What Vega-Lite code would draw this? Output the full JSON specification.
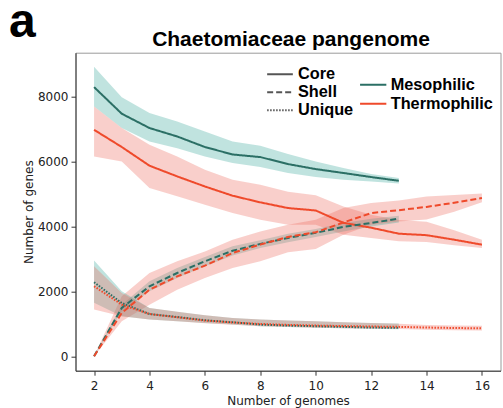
{
  "$schema": "https://vega.github.io/schema/vega-lite/v6.json",
  "width": 425,
  "height": 318,
  "autosize": {"type": "none"},
  "padding": {"left": 75.5, "top": 52.7, "right": 2.5, "bottom": 37.3},
  "config": {
    "view": {"stroke": "#9a9a9a", "strokeWidth": 1},
    "axis": {"labelFont": "DejaVu Sans", "titleFont": "DejaVu Sans", "labelFontSize": 12, "titleFontSize": 12, "labelColor": "#222", "titleColor": "#222", "titleFontWeight": "normal", "domainColor": "#333", "tickColor": "#333", "grid": false, "tickSize": 4.5}
  },
  "data": {"values": [
    {"n":2,"type":"Core","group":"Mesophilic","mean":8290,"lo":7690,"hi":8920},
    {"n":3,"type":"Core","group":"Mesophilic","mean":7470,"lo":7030,"hi":7980},
    {"n":4,"type":"Core","group":"Mesophilic","mean":7030,"lo":6615,"hi":7490},
    {"n":5,"type":"Core","group":"Mesophilic","mean":6770,"lo":6410,"hi":7230},
    {"n":6,"type":"Core","group":"Mesophilic","mean":6445,"lo":6155,"hi":6925},
    {"n":7,"type":"Core","group":"Mesophilic","mean":6215,"lo":5950,"hi":6615},
    {"n":8,"type":"Core","group":"Mesophilic","mean":6135,"lo":5830,"hi":6485},
    {"n":9,"type":"Core","group":"Mesophilic","mean":5920,"lo":5645,"hi":6230},
    {"n":10,"type":"Core","group":"Mesophilic","mean":5765,"lo":5520,"hi":6000},
    {"n":11,"type":"Core","group":"Mesophilic","mean":5645,"lo":5440,"hi":5800},
    {"n":12,"type":"Core","group":"Mesophilic","mean":5520,"lo":5385,"hi":5610},
    {"n":13,"type":"Core","group":"Mesophilic","mean":5405,"lo":5320,"hi":5490},
    {"n":2,"type":"Core","group":"Thermophilic","mean":6975,"lo":6150,"hi":7690},
    {"n":3,"type":"Core","group":"Thermophilic","mean":6445,"lo":6000,"hi":7030},
    {"n":4,"type":"Core","group":"Thermophilic","mean":5870,"lo":5180,"hi":6515},
    {"n":5,"type":"Core","group":"Thermophilic","mean":5540,"lo":4925,"hi":6155},
    {"n":6,"type":"Core","group":"Thermophilic","mean":5230,"lo":4665,"hi":5745},
    {"n":7,"type":"Core","group":"Thermophilic","mean":4945,"lo":4410,"hi":5435},
    {"n":8,"type":"Core","group":"Thermophilic","mean":4740,"lo":4205,"hi":5280},
    {"n":9,"type":"Core","group":"Thermophilic","mean":4565,"lo":4050,"hi":5070},
    {"n":10,"type":"Core","group":"Thermophilic","mean":4490,"lo":4050,"hi":4960},
    {"n":11,"type":"Core","group":"Thermophilic","mean":4110,"lo":3745,"hi":4615},
    {"n":12,"type":"Core","group":"Thermophilic","mean":3960,"lo":3640,"hi":4360},
    {"n":13,"type":"Core","group":"Thermophilic","mean":3775,"lo":3540,"hi":4200},
    {"n":14,"type":"Core","group":"Thermophilic","mean":3730,"lo":3520,"hi":4140},
    {"n":15,"type":"Core","group":"Thermophilic","mean":3590,"lo":3420,"hi":3880},
    {"n":16,"type":"Core","group":"Thermophilic","mean":3437,"lo":3335,"hi":3590},
    {"n":2,"type":"Shell","group":"Mesophilic","mean":0,"lo":0,"hi":0},
    {"n":3,"type":"Shell","group":"Mesophilic","mean":1490,"lo":1385,"hi":1590},
    {"n":4,"type":"Shell","group":"Mesophilic","mean":2155,"lo":2000,"hi":2310},
    {"n":5,"type":"Shell","group":"Mesophilic","mean":2565,"lo":2410,"hi":2720},
    {"n":6,"type":"Shell","group":"Mesophilic","mean":2925,"lo":2770,"hi":3060},
    {"n":7,"type":"Shell","group":"Mesophilic","mean":3250,"lo":3100,"hi":3385},
    {"n":8,"type":"Shell","group":"Mesophilic","mean":3460,"lo":3335,"hi":3570},
    {"n":9,"type":"Shell","group":"Mesophilic","mean":3645,"lo":3510,"hi":3775},
    {"n":10,"type":"Shell","group":"Mesophilic","mean":3800,"lo":3675,"hi":3920},
    {"n":11,"type":"Shell","group":"Mesophilic","mean":3985,"lo":3845,"hi":4105},
    {"n":12,"type":"Shell","group":"Mesophilic","mean":4105,"lo":4000,"hi":4235},
    {"n":13,"type":"Shell","group":"Mesophilic","mean":4240,"lo":4120,"hi":4330},
    {"n":2,"type":"Shell","group":"Thermophilic","mean":0,"lo":0,"hi":0},
    {"n":3,"type":"Shell","group":"Thermophilic","mean":1335,"lo":1080,"hi":1845},
    {"n":4,"type":"Shell","group":"Thermophilic","mean":2050,"lo":1590,"hi":2565},
    {"n":5,"type":"Shell","group":"Thermophilic","mean":2460,"lo":2050,"hi":2925},
    {"n":6,"type":"Shell","group":"Thermophilic","mean":2790,"lo":2410,"hi":3230},
    {"n":7,"type":"Shell","group":"Thermophilic","mean":3180,"lo":2720,"hi":3590},
    {"n":8,"type":"Shell","group":"Thermophilic","mean":3440,"lo":2925,"hi":3845},
    {"n":9,"type":"Shell","group":"Thermophilic","mean":3675,"lo":3200,"hi":4050},
    {"n":10,"type":"Shell","group":"Thermophilic","mean":3820,"lo":3300,"hi":4205},
    {"n":11,"type":"Shell","group":"Thermophilic","mean":4120,"lo":3745,"hi":4565},
    {"n":12,"type":"Shell","group":"Thermophilic","mean":4410,"lo":4050,"hi":4720},
    {"n":13,"type":"Shell","group":"Thermophilic","mean":4500,"lo":4150,"hi":4800},
    {"n":14,"type":"Shell","group":"Thermophilic","mean":4600,"lo":4210,"hi":4920},
    {"n":15,"type":"Shell","group":"Thermophilic","mean":4730,"lo":4450,"hi":4970},
    {"n":16,"type":"Shell","group":"Thermophilic","mean":4874,"lo":4740,"hi":5010},
    {"n":2,"type":"Unique","group":"Mesophilic","mean":2280,"lo":1650,"hi":2950},
    {"n":3,"type":"Unique","group":"Mesophilic","mean":1640,"lo":1230,"hi":2000},
    {"n":4,"type":"Unique","group":"Mesophilic","mean":1300,"lo":1130,"hi":1490},
    {"n":5,"type":"Unique","group":"Mesophilic","mean":1210,"lo":1080,"hi":1370},
    {"n":6,"type":"Unique","group":"Mesophilic","mean":1110,"lo":1025,"hi":1260},
    {"n":7,"type":"Unique","group":"Mesophilic","mean":1045,"lo":975,"hi":1180},
    {"n":8,"type":"Unique","group":"Mesophilic","mean":975,"lo":925,"hi":1130},
    {"n":9,"type":"Unique","group":"Mesophilic","mean":945,"lo":900,"hi":1100},
    {"n":10,"type":"Unique","group":"Mesophilic","mean":925,"lo":875,"hi":1075},
    {"n":11,"type":"Unique","group":"Mesophilic","mean":905,"lo":860,"hi":1050},
    {"n":12,"type":"Unique","group":"Mesophilic","mean":885,"lo":845,"hi":1025},
    {"n":13,"type":"Unique","group":"Mesophilic","mean":875,"lo":835,"hi":1010},
    {"n":2,"type":"Unique","group":"Thermophilic","mean":2155,"lo":1440,"hi":2770},
    {"n":3,"type":"Unique","group":"Thermophilic","mean":1590,"lo":1230,"hi":1950},
    {"n":4,"type":"Unique","group":"Thermophilic","mean":1300,"lo":1130,"hi":1490},
    {"n":5,"type":"Unique","group":"Thermophilic","mean":1200,"lo":1080,"hi":1370},
    {"n":6,"type":"Unique","group":"Thermophilic","mean":1100,"lo":1020,"hi":1260},
    {"n":7,"type":"Unique","group":"Thermophilic","mean":1040,"lo":970,"hi":1180},
    {"n":8,"type":"Unique","group":"Thermophilic","mean":995,"lo":925,"hi":1130},
    {"n":9,"type":"Unique","group":"Thermophilic","mean":965,"lo":900,"hi":1100},
    {"n":10,"type":"Unique","group":"Thermophilic","mean":945,"lo":880,"hi":1075},
    {"n":11,"type":"Unique","group":"Thermophilic","mean":930,"lo":860,"hi":1050},
    {"n":12,"type":"Unique","group":"Thermophilic","mean":915,"lo":845,"hi":1025},
    {"n":13,"type":"Unique","group":"Thermophilic","mean":905,"lo":840,"hi":1000},
    {"n":14,"type":"Unique","group":"Thermophilic","mean":885,"lo":820,"hi":960},
    {"n":15,"type":"Unique","group":"Thermophilic","mean":870,"lo":800,"hi":945},
    {"n":16,"type":"Unique","group":"Thermophilic","mean":860,"lo":790,"hi":940}
  ]},
  "layer": [
    {
      "mark": {"type": "area", "opacity": 0.32},
      "encoding": {
        "x": {"field": "n", "type": "quantitative", "scale": {"domain": [1.33, 16.67], "nice": false, "zero": false},
              "axis": {"orient": "bottom", "values": [2,4,6,8,10,12,14,16], "title": "Number of genomes", "titlePadding": 4.5, "labelPadding": 5}},
        "y": {"field": "lo", "type": "quantitative", "scale": {"domain": [-445, 9350], "nice": false, "zero": false},
              "axis": {"orient": "left", "values": [0,2000,4000,6000,8000], "format": "d", "title": "Number of genes", "titlePadding": 1.5, "labelPadding": 3}},
        "y2": {"field": "hi"},
        "color": {"field": "group", "type": "nominal", "scale": {"domain": ["Mesophilic", "Thermophilic"], "range": ["#3aa89c", "#eb6a5c"]}, "legend": null},
        "detail": {"field": "type"}
      }
    },
    {
      "mark": {"type": "line", "strokeWidth": 2},
      "encoding": {
        "x": {"field": "n", "type": "quantitative",
              "axis": {"orient": "top", "labels": false, "ticks": false, "domain": false, "title": "Chaetomiaceae pangenome", "titleFont": "Liberation Sans", "titleFontSize": 21, "titleFontWeight": "bold", "titleColor": "#000", "titleBaseline": "alphabetic", "titleY": -7, "titleX": 215, "titleAlign": "center"}},
        "y": {"field": "mean", "type": "quantitative",
              "axis": {"orient": "right", "labels": false, "ticks": false, "domain": false, "title": "a", "titleFont": "Liberation Sans", "titleFontSize": 48, "titleFontWeight": "bold", "titleColor": "#000", "titleAngle": 0, "titleBaseline": "alphabetic", "titleAlign": "left", "titleX": -492, "titleY": -16}},
        "color": {"field": "group", "type": "nominal", "title": null,
                  "scale": {"domain": ["Mesophilic", "Thermophilic"], "range": ["#2b6f65", "#ef4a2b"]},
                  "legend": {"orient": "none", "legendX": 283.2, "legendY": 22.8, "symbolType": "stroke", "symbolSize": 690, "symbolStrokeWidth": 2, "rowPadding": 0, "clipHeight": 18.3, "labelFont": "Liberation Sans", "labelFontSize": 16.3, "labelFontWeight": "bold", "labelColor": "#000", "labelOffset": 3}},
        "strokeDash": {"field": "type", "type": "nominal", "title": null,
                  "scale": {"domain": ["Core", "Shell", "Unique"], "range": [[1, 0], [6, 3], [1.5, 1.5]]},
                  "legend": {"orient": "none", "legendX": 190.5, "legendY": 12.7, "symbolType": "stroke", "symbolSize": 660, "symbolStrokeWidth": 2, "symbolStrokeColor": "#555", "rowPadding": 0, "clipHeight": 17.8, "labelFont": "Liberation Sans", "labelFontSize": 16.3, "labelFontWeight": "bold", "labelColor": "#000", "labelOffset": 4}}
      }
    }
  ],
  "resolve": {"scale": {"color": "independent"}, "axis": {"x": "independent", "y": "independent"}}
}
